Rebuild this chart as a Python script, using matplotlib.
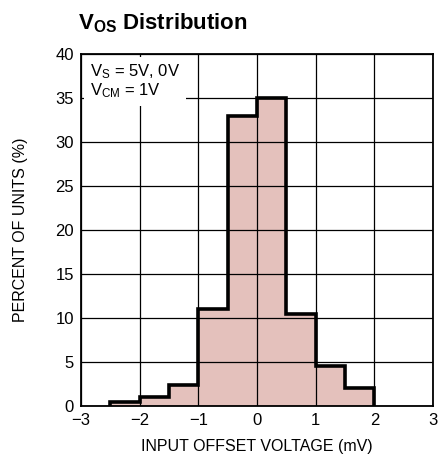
import numpy as np
import matplotlib.pyplot as plt

plt.rcParams['font.family'] = ['Liberation Sans Narrow', 'Liberation Sans', 'DejaVu Sans']
plt.rcParams['mathtext.fontset'] = 'custom'
plt.rcParams['mathtext.rm'] = 'Liberation Sans'
plt.rcParams['mathtext.bf'] = 'Liberation Sans:bold'

bin_edges = [-2.5, -2.0, -1.5, -1.0, -0.5, 0.0, 0.5, 1.0, 1.5, 2.0]
percent = [0.5, 1.0, 2.4, 11.0, 33.0, 35.0, 10.5, 4.5, 2.0]
x_ticks = [-3, -2, -1, 0, 1, 2, 3]
y_ticks = [0, 5, 10, 15, 20, 25, 30, 35, 40]

fig = plt.figure(figsize=(4.39, 4.66), dpi=100)
ax = fig.add_axes([81/439, 1 - 406/466, 352/439, 352/466])

ax.stairs(percent, bin_edges, fill=True, color='#e4c1bc', zorder=1, linewidth=0)
ax.stairs(percent, bin_edges, baseline=0, fill=False, color='black', linewidth=2.6, zorder=3)

ax.set_xlim(-3, 3)
ax.set_ylim(0, 40)
ax.set_xticks(x_ticks)
ax.set_yticks(y_ticks)
ax.set_axisbelow(False)
ax.grid(True, color='black', linewidth=0.9, zorder=2)
for s in ax.spines.values():
    s.set_linewidth(1.3)
ax.tick_params(length=0, labelsize=12, pad=5)

ax.text(0.025, 0.975, r'$\mathregular{V_S}$ = 5V, 0V' + '\n' + r'$\mathregular{V_{CM}}$ = 1V',
        transform=ax.transAxes, ha='left', va='top', fontsize=12, linespacing=1.0,
        bbox=dict(facecolor='white', edgecolor='none', pad=4), zorder=4)

ax.set_xlabel('INPUT OFFSET VOLTAGE (mV)', fontsize=11.5, labelpad=8)
ax.set_ylabel('PERCENT OF UNITS (%)', fontsize=11.5, labelpad=20)

fig.text(78/439, 1 - 29/466, r'$\mathbf{V_{OS}}$ Distribution', fontsize=16, fontweight='bold',
         ha='left', va='baseline')

fig.savefig('out.png', dpi=100)
